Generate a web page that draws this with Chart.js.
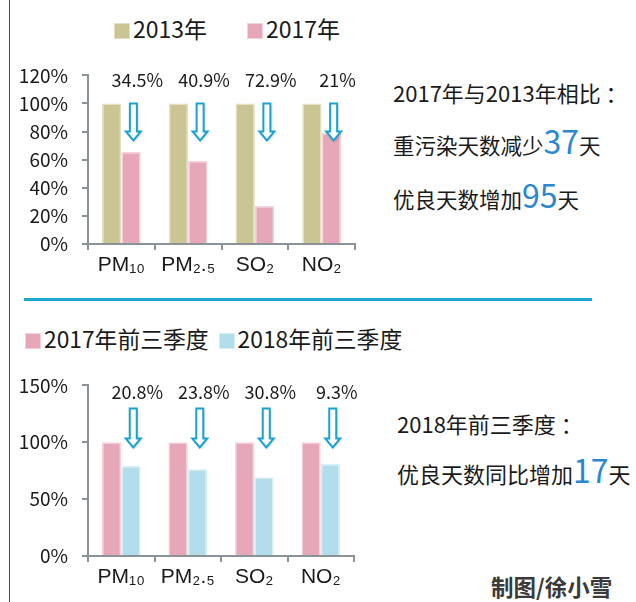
<!DOCTYPE html>
<html>
<head>
<meta charset="utf-8">
<script src="https://cdn.jsdelivr.net/npm/chart.js@4"></script>
<style>
    body { margin: 0; background: #fff; }
    #page { position: relative; width: 636px; height: 602px; overflow: hidden; background: #fff;
            font-family: "Noto Sans CJK SC", sans-serif; color: #1a1a1a; }
    .abs { position: absolute; white-space: nowrap; }
    canvas { position: absolute; left: 0; }
    .sw { display: inline-block; width: 14px; height: 14px; margin-right: 3px; vertical-align: -1px; }
    .big { color: #2b87cf; font-size: 32px; line-height: 1; }
</style>
</head>
<body>
<div id="page">
    <div class="abs" style="left:9px;top:0;width:1px;height:602px;background:#4a4a4a;"></div>
    <div class="abs" style="left:24px;top:298px;width:568px;height:3px;background:#1ba6d3;"></div>

    <div class="abs" style="left:114px;top:11px;font-size:23px;line-height:34px;">
        <span class="sw" style="background:#cac592;border:1px solid #e2dfc4;"></span>2013年<span style="display:inline-block;width:40px;"></span><span class="sw" style="background:#e6a7b9;border:1px solid #f3d2db;"></span>2017年
    </div>
    <div class="abs" style="left:25px;top:322px;font-size:22.8px;line-height:34px;">
        <span class="sw" style="background:#e6a7b9;border:1px solid #f3d2db;"></span>2017年前三季度<span style="display:inline-block;width:10px;"></span><span class="sw" style="background:#b1deea;border:1px solid #d6eef5;"></span>2018年前三季度
    </div>

    <div class="abs" style="left:393px;top:77px;font-size:22px;line-height:30px;">2017年与2013年相比 ：</div>
    <div class="abs" style="left:393px;top:124px;font-size:21.5px;line-height:38px;">重污染天数减少<span class="big">37</span>天</div>
    <div class="abs" style="left:393px;top:178px;font-size:21.5px;line-height:38px;">优良天数增加<span class="big">95</span>天</div>

    <div class="abs" style="left:397px;top:408px;font-size:22px;line-height:30px;">2018年前三季度 ：</div>
    <div class="abs" style="left:397px;top:453px;font-size:22px;line-height:38px;">优良天数同比增加<span class="big">17</span>天</div>

    <div class="abs" style="left:491px;top:572px;font-size:22.5px;line-height:28px;font-weight:bold;color:#3a3a3a;">制图/徐小雪</div>

    <canvas id="topChart" width="380" height="240" style="top:50px;"></canvas>
    <canvas id="bottomChart" width="380" height="240" style="top:360px;"></canvas>
</div>

<script>
// x 轴类别
const pollutants = ['PM₁₀', 'PM₂.₅', 'SO₂', 'NO₂'];

// 上图：2013年为基准 100%
const year2013 = [100, 100, 100, 100];
const year2017 = [65.5, 59.1, 27.1, 79];
const drop2017 = ['34.5%', '40.9%', '72.9%', '21%'];

// 下图：前三季度对比
const q3of2017 = [100, 100, 100, 100];
const q3of2018 = [79.2, 76.2, 69.2, 81];
const drop2018 = ['20.8%', '23.8%', '30.8%', '9.3%'];

const axisGray = '#8c9396';

// 下降幅度文字 + 空心箭头
const dropNotes = {
    id: 'dropNotes',
    afterDatasetsDraw(chart, args, opts) {
        const ctx = chart.ctx;
        const area = chart.chartArea;
        const x = chart.scales.x;
        ctx.save();
        opts.labels.forEach((text, i) => {
            const cx = x.getPixelForValue(i);
            ctx.font = '18px "Noto Sans CJK SC", sans-serif';
            ctx.fillStyle = '#1a1a1a';
            ctx.textAlign = 'center';
            ctx.textBaseline = 'middle';
            ctx.fillText(text, cx + 16, area.top + opts.labelDy);

            const ax = cx + 12;
            const top = area.top + opts.arrowDy;
            const tip = top + opts.arrowLen;
            ctx.beginPath();
            ctx.moveTo(ax - 3.5, top);
            ctx.lineTo(ax + 3.5, top);
            ctx.lineTo(ax + 3.5, tip - 9);
            ctx.lineTo(ax + 7.5, tip - 9);
            ctx.lineTo(ax, tip);
            ctx.lineTo(ax - 7.5, tip - 9);
            ctx.lineTo(ax - 3.5, tip - 9);
            ctx.closePath();
            ctx.shadowColor = 'rgba(0,0,0,0.25)';
            ctx.shadowBlur = 3;
            ctx.shadowOffsetX = 1;
            ctx.shadowOffsetY = 1;
            ctx.fillStyle = '#ffffff';
            ctx.fill();
            ctx.shadowColor = 'transparent';
            ctx.strokeStyle = '#1ba3cf';
            ctx.lineWidth = 2;
            ctx.stroke();
        });
        ctx.restore();
    }
};

function makeChart(id, sets, yMax, yStep, notes, rightPad, xHeight) {
    return new Chart(document.getElementById(id), {
        type: 'bar',
        data: {
            labels: pollutants,
            datasets: sets.map(s => ({
                data: s.data,
                backgroundColor: s.color,
                borderColor: s.edge,
                borderWidth: 1.5,
                categoryPercentage: 0.58,
                barPercentage: 1.0
            }))
        },
        options: {
            responsive: false,
            animation: false,
            devicePixelRatio: 1,
            layout: { padding: { top: 25, right: rightPad, left: 0, bottom: 0 } },
            plugins: {
                legend: { display: false },
                tooltip: { enabled: false },
                dropNotes: notes
            },
            scales: {
                x: {
                    afterFit(scale) { scale.height = xHeight; },
                    grid: { drawOnChartArea: false, drawTicks: true, tickLength: 6, offset: true, color: axisGray, lineWidth: 2 },
                    border: { display: true, color: axisGray, width: 2 },
                    ticks: { color: '#1a1a1a', padding: 3, font: { family: '"Liberation Sans", Arial, sans-serif', size: 21 } }
                },
                y: {
                    min: 0,
                    max: yMax,
                    afterFit(scale) { scale.width = 88; },
                    grid: { drawOnChartArea: false, drawTicks: true, tickLength: 6, color: axisGray, lineWidth: 2 },
                    border: { display: true, color: axisGray, width: 2 },
                    ticks: {
                        stepSize: yStep,
                        padding: 14,
                        color: '#1a1a1a',
                        font: { family: '"Noto Sans CJK SC", sans-serif', size: 19 },
                        callback: v => v + '%'
                    }
                }
            }
        },
        plugins: [dropNotes]
    });
}

makeChart('topChart', [
    { data: year2013, color: '#cac592', edge: '#e2dfc4' },
    { data: year2017, color: '#e6a7b9', edge: '#f3d2db' }
], 120, 20, { labels: drop2017, labelDy: 5, arrowDy: 28, arrowLen: 37 }, 25, 46);

makeChart('bottomChart', [
    { data: q3of2017, color: '#e6a7b9', edge: '#f3d2db' },
    { data: q3of2018, color: '#b1deea', edge: '#d6eef5' }
], 150, 50, { labels: drop2018, labelDy: 7, arrowDy: 23, arrowLen: 39 }, 26, 44);
</script>
</body>
</html>
